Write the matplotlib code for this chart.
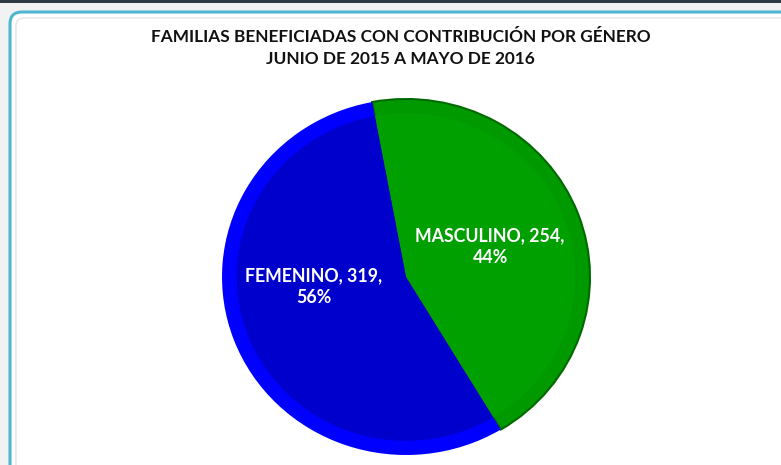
import matplotlib
matplotlib.use('Agg')
import matplotlib.pyplot as plt
from matplotlib.patches import FancyBboxPatch, Rectangle

# datos
categorias = ['MASCULINO', 'FEMENINO']
familias = [254, 319]
colores = ['#00A000', '#0000CC']
bordes = ['#009A00', '#0000FF']
titulo = 'FAMILIAS BENEFICIADAS CON CONTRIBUCIÓN POR GÉNERO\nJUNIO DE 2015 A MAYO DE 2016'

plt.rcParams['font.family'] = ['Lato', 'DejaVu Sans']

fig = plt.figure(figsize=(7.81, 4.65), dpi=100)
fig.patch.set_facecolor('#f1f3f3')

# marco (coordenadas en pixeles), detras de los ejes
fig.patches.append(Rectangle((0, 462), 781, 3, transform=None, zorder=-3,
                             facecolor='#2e3b44', edgecolor='none'))
fig.patches.append(FancyBboxPatch((10, -20), 800, 473, transform=None, zorder=-2,
                                  boxstyle='round,pad=0,rounding_size=12',
                                  facecolor='white', edgecolor='#4db6d0',
                                  linewidth=2.2))
fig.patches.append(FancyBboxPatch((16, -20), 800, 467, transform=None, zorder=-1,
                                  boxstyle='round,pad=0,rounding_size=8',
                                  facecolor='white', edgecolor='#e4e6e6',
                                  linewidth=1))

fig.text(0.513, 0.897, titulo, ha='center', va='center', fontsize=12.4,
         fontweight='bold', color='#111111', linespacing=1.45)

ax = fig.add_axes([222 / 781, 10 / 465, 368 / 781, 356 / 465])
ax.patch.set_visible(False)

total = sum(familias)
inicio = 100.6

# anillo exterior (bisel)
w_ext, _ = ax.pie(familias, colors=bordes, startangle=inicio, counterclock=False,
                  radius=1.0, wedgeprops=dict(linewidth=0), frame=True)
w_ext[0].set_edgecolor('#006a00')
w_ext[0].set_linewidth(1.5)
# interior
w_int, _ = ax.pie(familias, colors=colores, startangle=inicio, counterclock=False,
                  radius=0.92, wedgeprops=dict(linewidth=0), frame=True)
ax.set_aspect('auto')
ax.set_xlim(-1, 1)
ax.set_ylim(-1, 1)
ax.axis('off')

posiciones = [(0.457, 0.17), (-0.50, -0.056)]
for cat, val, (x, y) in zip(categorias, familias, posiciones):
    pct = round(val / total * 100)
    ax.text(x, y, f'{cat}, {val},\n{pct}%', ha='center', va='center',
            fontsize=12.8, fontweight='bold', color='white', linespacing=1.35)

fig.savefig('out.png', dpi=100)
